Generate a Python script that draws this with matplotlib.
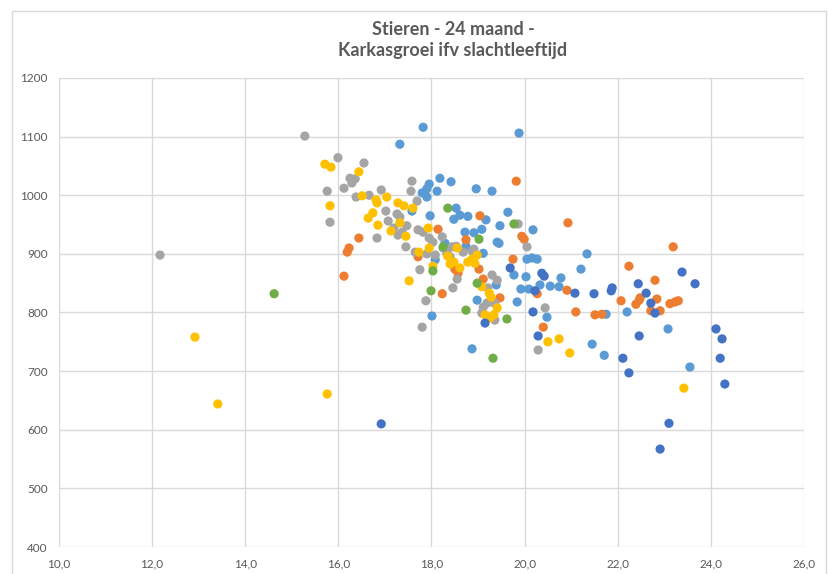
import matplotlib
matplotlib.use("Agg")
import matplotlib.pyplot as plt
from matplotlib.patches import Rectangle
from matplotlib.ticker import FuncFormatter, MultipleLocator

# ---- data (age in months, carcass growth g/day) ----
blue_x = [17.82, 17.32, 19.88, 18.18, 18.42, 17.95, 17.90, 17.80, 17.90, 18.12,
          18.96, 19.30, 17.97, 17.58, 18.53, 19.64, 18.61, 18.48, 18.78, 19.17,
          19.47, 20.18, 18.72, 19.08, 18.91, 19.41, 19.45, 18.29, 18.74, 19.11,
          18.08, 20.05, 20.16, 20.27, 21.34, 21.21, 19.77, 20.03, 20.78, 19.92,
          20.09, 20.33, 20.55, 20.74, 19.39, 18.98, 19.84, 18.01, 20.48, 21.75,
          22.20, 18.87, 21.45, 21.71, 23.08, 23.55]
blue_y = [1116, 1087, 1106, 1029, 1023, 1019, 1011, 1004, 997, 1007,
          1011, 1007, 965, 973, 978, 971, 966, 959, 964, 958,
          948, 941, 937, 942, 936, 920, 918, 918, 913, 901,
          890, 891, 893, 891, 900, 874, 864, 861, 859, 840,
          840, 847, 845, 844, 847, 821, 818, 794, 792, 797,
          801, 738, 746, 727, 772, 707]

orange_x = [16.44, 16.23, 16.19, 16.12, 17.71, 18.14, 18.23, 19.82, 19.04, 18.74,
            19.94, 19.99, 19.75, 19.02, 18.50, 18.57, 19.11, 19.47, 20.27, 20.40,
            20.91, 20.93, 21.10, 21.51, 21.66, 22.07, 22.24, 22.39, 22.46, 22.48,
            22.80, 22.84, 22.71, 22.91, 23.12, 23.23, 23.30, 23.19]
orange_y = [927, 910, 903, 862, 895, 942, 832, 1024, 965, 924,
            930, 925, 891, 874, 874, 867, 857, 825, 832, 775,
            838, 953, 801, 796, 797, 820, 879, 814, 821, 825,
            855, 823, 803, 803, 815, 818, 820, 912]

gray_x = [12.17, 15.28, 15.99, 16.55, 16.25, 16.36, 16.29, 16.12, 15.76, 16.38,
          16.66, 16.92, 17.58, 17.56, 17.69, 17.02, 17.26, 17.32, 17.07, 15.82,
          17.47, 17.19, 17.28, 17.37, 16.83, 17.45, 17.71, 17.82, 17.95, 18.03,
          18.23, 17.65, 17.90, 18.08, 18.25, 18.44, 18.53, 18.68, 18.87, 18.91,
          18.33, 18.40, 18.55, 18.46, 17.88, 17.80, 19.30, 19.41, 19.21, 19.11,
          19.19, 19.30, 19.36, 19.08, 19.36, 19.86, 20.05, 20.44, 20.29, 17.75]
gray_y = [898, 1101, 1064, 1055, 1029, 1028, 1021, 1012, 1007, 997,
          1000, 1009, 1024, 1007, 990, 973, 968, 963, 956, 954,
          948, 944, 932, 937, 927, 912, 941, 937, 927, 920,
          929, 903, 900, 898, 910, 912, 913, 903, 905, 908,
          901, 895, 857, 842, 820, 775, 864, 855, 842, 809,
          816, 818, 816, 799, 787, 951, 912, 808, 736, 873]

yellow_x = [12.92, 13.41, 15.76, 15.71, 15.84, 16.44, 16.51, 16.81, 16.83, 17.04,
            17.28, 17.41, 17.60, 15.82, 16.74, 16.64, 16.85, 17.32, 17.13, 17.45,
            17.93, 17.73, 17.95, 17.52, 18.03, 18.35, 18.40, 18.48, 18.61, 18.55,
            18.98, 18.87, 18.78, 18.93, 19.08, 19.24, 19.28, 19.41, 19.34, 19.15,
            19.26, 20.50, 20.74, 20.97, 23.42]
yellow_y = [758, 644, 661, 1053, 1048, 1040, 999, 992, 987, 997,
            987, 982, 978, 982, 970, 961, 949, 953, 939, 930,
            944, 903, 910, 854, 879, 896, 883, 886, 876, 910,
            898, 891, 886, 884, 844, 833, 826, 808, 796, 796,
            791, 750, 755, 731, 671]

dblue_x = [16.92, 19.69, 19.15, 20.37, 20.42, 20.22, 20.18, 20.29, 21.08, 21.49,
           21.86, 21.88, 22.44, 22.61, 22.71, 22.80, 23.38, 23.66, 22.46, 22.11,
           22.24, 23.10, 22.91, 24.11, 24.24, 24.20, 24.30]
dblue_y = [610, 876, 782, 867, 862, 837, 801, 760, 833, 832,
           837, 842, 849, 833, 816, 799, 869, 849, 760, 722,
           697, 611, 567, 772, 755, 722, 678]

green_x = [14.62, 18.35, 19.77, 19.02, 18.25, 18.03, 17.99, 18.98, 18.74, 19.62, 19.32]
green_y = [832, 978, 951, 925, 912, 871, 837, 850, 804, 789, 722]

series = [
    (blue_x, blue_y, "#5B9BD5"),
    (orange_x, orange_y, "#ED7D31"),
    (gray_x, gray_y, "#A5A5A5"),
    (yellow_x, yellow_y, "#FFC000"),
    (dblue_x, dblue_y, "#4472C4"),
    (green_x, green_y, "#70AD47"),
]

title_lines = "Stieren - 24 maand -\nKarkasgroei ifv slachtleeftijd"

W, H = 829, 574
fig = plt.figure(figsize=(W / 100, H / 100), dpi=100)
fig.patch.set_facecolor("white")

# chart border
fig.patches.append(Rectangle((12 / W, -0.05), (826 - 12) / W, 1 - 11 / H + 0.05,
                             transform=fig.transFigure, fill=False,
                             edgecolor="#D9D9D9", linewidth=1.0))

ax = fig.add_axes([59 / W, 1 - 547 / H, (804 - 59) / W, (547 - 78) / H])
for xs, ys, c in series:
    ax.scatter(xs, ys, s=44, color=c, edgecolors="none", zorder=3)

ax.set_xlim(10, 26)
ax.set_ylim(400, 1200)
ax.xaxis.set_major_locator(MultipleLocator(2))
ax.yaxis.set_major_locator(MultipleLocator(100))
ax.xaxis.set_major_formatter(FuncFormatter(lambda v, p: f"{v:.1f}".replace(".", ",")))
ax.yaxis.set_major_formatter(FuncFormatter(lambda v, p: f"{int(v)}"))
ax.grid(True, color="#D9D9D9", linewidth=1.0, zorder=0)
ax.set_axisbelow(True)
for s in ax.spines.values():
    s.set_visible(False)
ax.tick_params(length=0, labelsize=8.5, labelcolor="#595959", pad=8)
for lab in ax.get_xticklabels() + ax.get_yticklabels():
    lab.set_fontfamily("Lato")

fig.text(453 / W, 1 - 40 / H, title_lines, ha="center", va="center",
         fontsize=13, fontweight="bold", color="#595959", family="Lato",
         linespacing=1.3)

fig.savefig("out.png", dpi=100, facecolor="white")
